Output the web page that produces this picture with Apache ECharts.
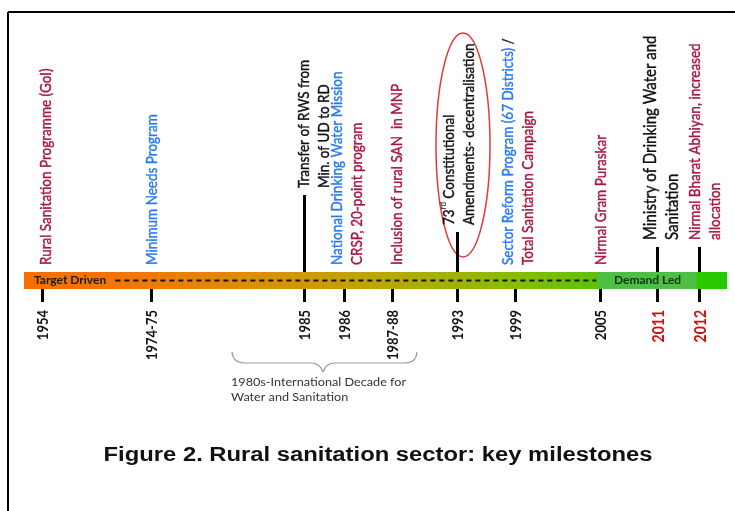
<!DOCTYPE html>
<html>
<head>
<meta charset="utf-8">
<script src="https://cdn.jsdelivr.net/npm/echarts@6/dist/echarts.min.js"></script>
<style>
  html, body { margin: 0; padding: 0; background: #fff; }
  #main { width: 735px; height: 511px; }
</style>
</head>
<body>
<div id="main"></div>
<script>
// milestones along the timeline
var years = ['1954', '1974-75', '1985', '1986', '1987-88', '1993', '1999', '2005', '2011', '2012'];
// where each milestone sits along the bar (0 = left end, 100 = right end)
var slots = [2.6, 18.0, 39.8, 45.5, 52.4, 61.6, 69.8, 81.9, 90.0, 96.0];
var events = [
  '{r|Rural Sanitation Programme (GoI)}',
  '{b|Minimum Needs Program}',
  '{k|Transfer of RWS from}\n{k|Min. of UD to RD}',
  '{b|National Drinking Water Mission}\n{r|CRSP, 20-point program}',
  '{r|Inclusion of rural SAN  in MNP}',
  '{k|73}{sup|rd}{k| Constitutional}\n{k|Amendments- decentralisation}',
  '{b|Sector Reform Program (67 Districts)}{k| /}\n{r|Total Sanitation Campaign}',
  '{r|Nirmal Gram Puraskar}',
  '{K|Ministry of Drinking Water and}\n{K|Sanitation}',
  '{r|Nirmal Bharat Abhiyan, increased}\n{r|allocation}'
];
var redYears = ['2011', '2012'];
// phases of the bar
var targetSpan = [0, 100];
var demandSpan = [81.7, 95.7];
var dashedSpan = [13.0, 81.4];

// layout bits (pixels)
var stems = [0, 0, 77, 0, 0, 40, 0, 0, 25, 25];
var shifts = [3, 0, 9, 2, 4, 1, 2, 0, 4, 5];

var myChart = echarts.init(document.getElementById('main'));

var FONT = 'Lato';
var STRETCH = 1.2; // the figure is a bit wider than tall
function txt(color, size, lh) {
  return { fill: color, stroke: color, lineWidth: 0.35, fontSize: size, fontFamily: FONT, lineHeight: lh };
}
var rich = {
  r: txt('#a8173f', 13.5, 17),
  b: txt('#2a7af2', 13.5, 17),
  k: txt('#111', 13.5, 17),
  K: txt('#111', 15, 18.5),
  sup: { fill: '#111', fontSize: 8, fontFamily: FONT, lineHeight: 17, verticalAlign: 'top' }
};

function renderMilestone(params, api) {
  var i = params.dataIndex;
  var p = api.coord([api.value(0), 0]);
  var x = Math.round(p[0]) + 0.5;
  var barTop = 272, barBottom = 289;
  var stem = stems[i];
  var children = [
    { type: 'line', shape: { x1: x, y1: barBottom, x2: x, y2: barBottom + 13 },
      style: { stroke: '#000', lineWidth: 3 } }
  ];
  if (stem) {
    children.push({ type: 'line', shape: { x1: x, y1: barTop, x2: x, y2: barTop - stem },
      style: { stroke: '#000', lineWidth: 3 } });
  }
  var isRed = redYears.indexOf(years[i]) >= 0;
  children.push({
    type: 'text', x: x + 1, y: 310, rotation: Math.PI / 2, scaleY: 1.15,
    style: {
      text: years[i], fill: isRed ? '#cc1010' : '#111',
      font: 'bold ' + (isRed ? 14 : 13) + 'px ' + FONT,
      align: 'right', verticalAlign: 'middle'
    }
  });
  children.push({
    type: 'text', x: x + shifts[i], y: barTop - stem - 7, rotation: Math.PI / 2, scaleY: STRETCH,
    style: { text: events[i], rich: rich, align: 'left', verticalAlign: 'middle' }
  });
  return { type: 'group', children: children };
}

// curly brace under the 1980s ticks
var braceStyle = { fill: null, stroke: '#999', lineWidth: 1.2 };
var brace = [
  { type: 'bezierCurve', shape: { x1: 232, y1: 352, cpx1: 233, cpy1: 363, x2: 245, y2: 363 }, style: braceStyle },
  { type: 'line', shape: { x1: 245, y1: 363, x2: 311, y2: 363 }, style: braceStyle },
  { type: 'bezierCurve', shape: { x1: 311, y1: 363, cpx1: 320, cpy1: 363, x2: 323, y2: 372 }, style: braceStyle },
  { type: 'bezierCurve', shape: { x1: 323, y1: 372, cpx1: 326, cpy1: 363, x2: 335, y2: 363 }, style: braceStyle },
  { type: 'line', shape: { x1: 335, y1: 363, x2: 405, y2: 363 }, style: braceStyle },
  { type: 'bezierCurve', shape: { x1: 405, y1: 363, cpx1: 416, cpy1: 363, x2: 417, y2: 352 }, style: braceStyle }
];

var option = {
  animation: false,
  grid: { left: 24, right: 8, top: 272, height: 17 },
  xAxis: { type: 'value', min: 0, max: 100, show: false },
  yAxis: { type: 'value', min: -1, max: 1, show: false },
  graphic: [
    { type: 'line', shape: { x1: 8, y1: 12, x2: 735, y2: 12 }, style: { stroke: '#000', lineWidth: 2 } },
    { type: 'line', shape: { x1: 8, y1: 12, x2: 8, y2: 511 }, style: { stroke: '#000', lineWidth: 2 } },
    { type: 'ellipse', shape: { cx: 463, cy: 145, rx: 27, ry: 112 },
      style: { fill: null, stroke: '#ee3535', lineWidth: 1.5 } },
    { type: 'text', x: 231, y: 375, scaleX: 1.1,
      style: { text: '1980s-International Decade for\nWater and Sanitation', fill: '#333',
        font: '11.5px ' + FONT, lineHeight: 15 } },
    { type: 'text', x: 378, y: 455, scaleX: 1.19,
      style: { text: 'Figure 2. Rural sanitation sector: key milestones', fill: '#111',
        font: 'bold 20px "Liberation Sans", Arial', align: 'center', verticalAlign: 'middle' } }
  ].concat(brace),
  series: [
    {
      type: 'line', z: 1, data: [], silent: true,
      markArea: {
        silent: true,
        itemStyle: {
          color: new echarts.graphic.LinearGradient(0, 0, 1, 0, [
            { offset: 0, color: '#f86e00' },
            { offset: 0.15, color: '#f27600' },
            { offset: 0.32, color: '#df8c00' },
            { offset: 0.5, color: '#bca600' },
            { offset: 0.68, color: '#8dbb00' },
            { offset: 0.82, color: '#5cc200' },
            { offset: 1, color: '#22c900' }
          ])
        },
        label: { show: true, position: 'insideLeft', distance: 10, color: '#1a1a1a',
          fontFamily: FONT, fontSize: 12, fontWeight: 'bold' },
        data: [[{ name: 'Target Driven', xAxis: targetSpan[0], yAxis: -1 }, { xAxis: targetSpan[1], yAxis: 1 }]]
      }
    },
    {
      type: 'line', z: 2, data: [], silent: true,
      markArea: {
        silent: true,
        itemStyle: { color: '#4dbf45' },
        label: { show: true, position: 'inside', color: '#143014',
          fontFamily: FONT, fontSize: 12, fontWeight: 'bold' },
        data: [[{ name: 'Demand Led', xAxis: demandSpan[0], yAxis: -1 }, { xAxis: demandSpan[1], yAxis: 1 }]]
      }
    },
    {
      type: 'line', z: 3, symbol: 'none', silent: true,
      lineStyle: { color: '#111', width: 1.8, type: [5, 4] },
      data: [[dashedSpan[0], 0], [dashedSpan[1], 0]]
    },
    {
      type: 'custom', z: 4, clip: false, silent: true,
      renderItem: renderMilestone,
      data: slots.map(function (s) { return [s]; })
    }
  ]
};

myChart.setOption(option);
</script>
</body>
</html>
